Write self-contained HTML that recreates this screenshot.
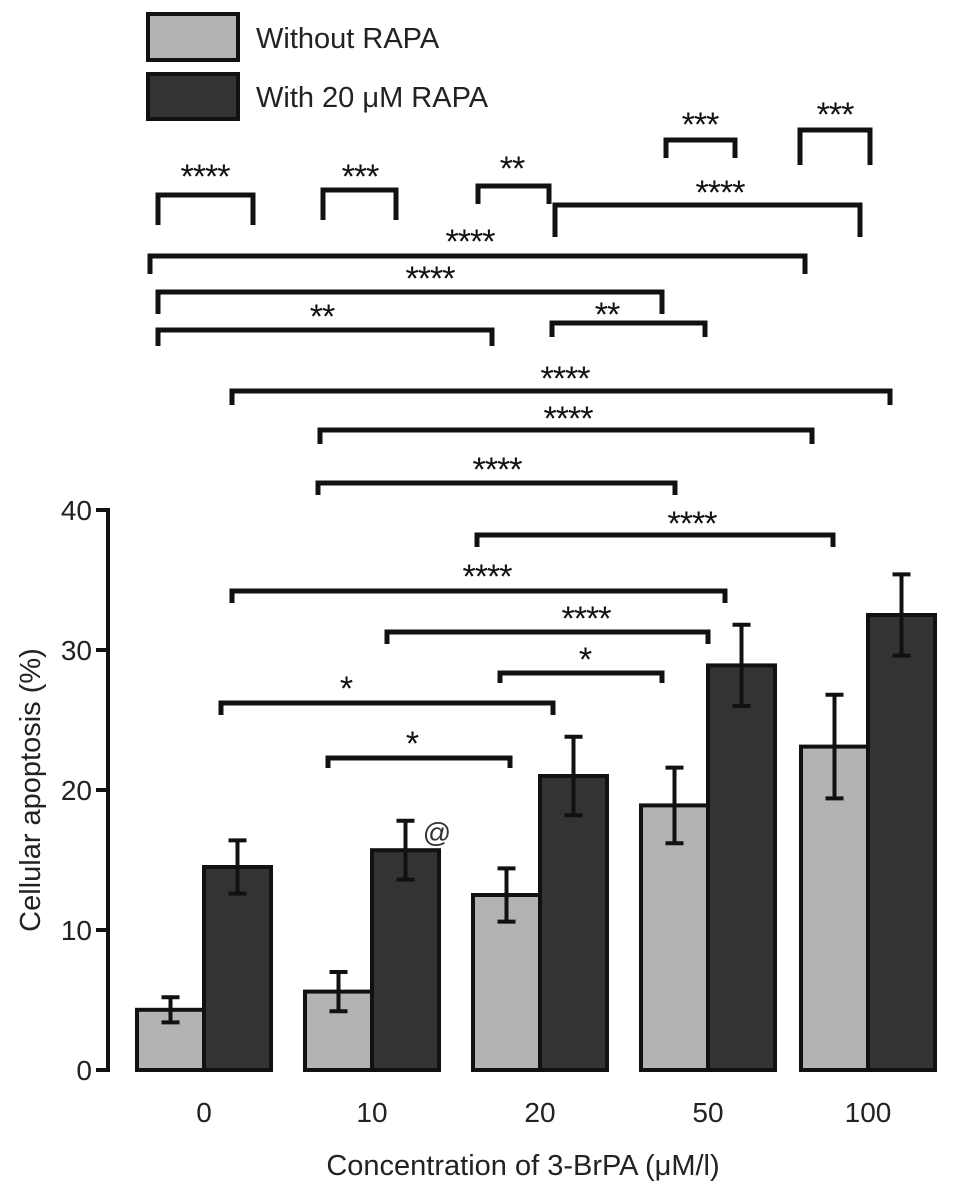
<!DOCTYPE html>
<html><head><meta charset="utf-8"><style>
body{margin:0;background:#fff}
svg{display:block;font-family:"Liberation Sans",Arial,sans-serif}
</style></head><body>
<svg id="chart" width="969" height="1192" viewBox="0 0 969 1192" xmlns="http://www.w3.org/2000/svg">
<g id="legend">
<rect x="148" y="14" width="90" height="46" fill="#b3b3b3" stroke="#111" stroke-width="4"/>
<text x="256" y="48" font-size="29" fill="#222">Without RAPA</text>
<rect x="148" y="74" width="90" height="45" fill="#333" stroke="#111" stroke-width="4"/>
<text x="256" y="107" font-size="29" fill="#222">With 20 μM RAPA</text>
</g>
<g id="plot"></g>
</svg>
<script>
const categories=["0","10","20","50","100"];
const withoutRapa=[4.3,5.6,12.5,18.9,23.1];
const withoutErr=[0.9,1.4,1.9,2.7,3.7];
const withRapa=[14.5,15.7,21.0,28.9,32.5];
const withErr=[1.9,2.1,2.8,2.9,2.9];
const yTicks=[0,10,20,30,40];
// significance brackets: [x1,x2,yTop,legLen,label,labelX,labelY]
const brackets=[
[158,253,195,30,"****",205,180],[323,396,190,30,"***",360,180],[478,549,186,18,"**",512,172],
[666,735,140,18,"***",700,128],[800,870,130,35,"***",835,118],[555,860,205,32,"****",720,196],
[150,805,256,18,"****",470,245],[158,662,292,22,"****",430,282],[158,492,330,16,"**",322,320],
[552,705,323,14,"**",607,318],[232,890,391,14,"****",565,382],[320,812,430,14,"****",568,422],
[318,675,483,12,"****",497,473],[477,833,535,12,"****",692,527],[232,725,591,12,"****",487,580],
[387,708,632,12,"****",586,622],[500,662,673,10,"*",585,663],[221,553,703,12,"*",346,692],[328,510,758,10,"*",412,747]];
const NS="http://www.w3.org/2000/svg";
const g=document.getElementById("plot");
const y0=1070,pxPer=14;
function yScale(v){return y0-v*pxPer;}
const groupX=[137,305,473,641,801],bw=67;
function xLight(i){return groupX[i];}
function xDark(i){return groupX[i]+bw;}
function mk(tag,attrs){const e=document.createElementNS(NS,tag);for(const k in attrs)e.setAttribute(k,attrs[k]);g.appendChild(e);return e;}
let ax=mk("line",{x1:108,y1:y0+2,x2:108,y2:508,stroke:"#111","stroke-width":4});


yTicks.forEach(t=>{
 const tk=mk("line",{x1:96,x2:108,y1:yScale(t),y2:yScale(t),stroke:"#111","stroke-width":4});
 
 
 const tl=mk("text",{x:92,y:yScale(t)+10,"font-size":28,"text-anchor":"end",fill:"#222"});
 tl.textContent=t;
 
 
});
function bar(x,v,err,fill,name){
 const r=mk("rect",{x:x,y:yScale(v),width:bw,height:y0-yScale(v),fill:fill,stroke:"#111","stroke-width":4});
 
 
 const cx=x+bw/2;
 const e=mk("path",{d:`M${cx},${yScale(v+err)}V${yScale(v-err)}M${cx-9},${yScale(v+err)}H${cx+9}M${cx-9},${yScale(v-err)}H${cx+9}`,stroke:"#111","stroke-width":4,fill:"none"});
 
 
}
categories.forEach((c,i)=>{
 bar(xLight(i),withoutRapa[i],withoutErr[i],"#b3b3b3","bar-without-rapa-"+c);
 bar(xDark(i),withRapa[i],withErr[i],"#333333","bar-with-rapa-"+c);
 const l=mk("text",{x:xDark(i),y:1122,"font-size":28,"text-anchor":"middle",fill:"#222"});
 l.textContent=c;
 
 
});
brackets.forEach(b=>{
 const p=mk("path",{d:`M${b[0]},${b[2]+b[3]}V${b[2]}H${b[1]}V${b[2]+b[3]}`,stroke:"#111","stroke-width":5,fill:"none"});
 
 
 const t=mk("text",{x:b[5],y:b[6]+8,"font-size":34,"text-anchor":"middle",fill:"#111","letter-spacing":"-1"});
 t.textContent=b[4];
 
 
});
const at=mk("text",{x:437,y:842,"font-size":28,"text-anchor":"middle",fill:"#333"});
at.textContent="@";


const xt=mk("text",{x:523,y:1175,"font-size":29,"text-anchor":"middle",fill:"#222"});
xt.textContent="Concentration of 3-BrPA (μM/l)";


const yt=mk("text",{x:0,y:0,"font-size":29,"text-anchor":"middle",fill:"#222",transform:"translate(40,790) rotate(-90)"});
yt.textContent="Cellular apoptosis (%)";


</script>
</body></html>
